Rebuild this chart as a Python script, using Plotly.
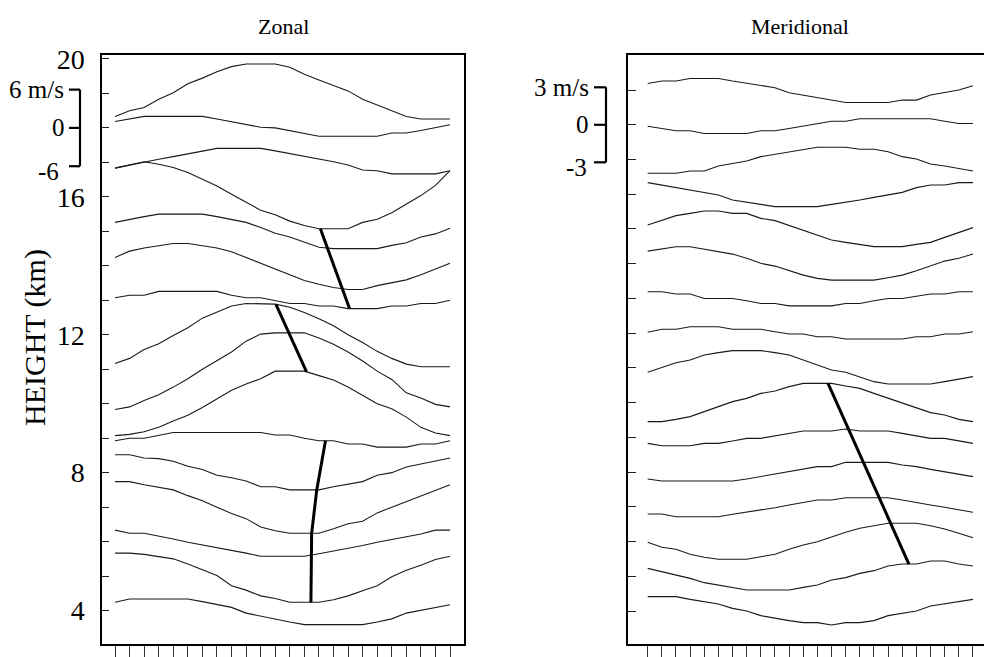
import numpy as np
import plotly.graph_objects as go

# Time index of each profile sample (24 samples)
hours = list(range(24))
# Nominal height of each profile (km)
levels = list(range(4, 20))

# Zonal wind perturbation (m/s) at each nominal height
ZONAL_04 = [1.3, 1.8, 1.8, 1.8, 1.8, 1.8, 1.4, 1.0, 0.5, -0.4, -0.9, -1.3, -1.8, -2.2, -2.2, -2.2, -2.2, -2.2, -1.8, -1.3, -0.4, 0.0, 0.5, 0.9]
ZONAL_05 = [3.6, 3.6, 3.4, 3.1, 2.7, 1.9, 1.0, 0.1, -1.5, -2.2, -3.1, -3.5, -4.1, -4.1, -4.1, -3.7, -3.1, -2.3, -1.5, -0.1, 0.9, 1.7, 2.6, 3.1]
ZONAL_06 = [1.8, 1.3, 1.3, 0.9, 0.4, -0.1, -0.5, -0.9, -1.3, -1.8, -2.3, -2.3, -2.3, -2.3, -1.9, -1.5, -1.0, -0.6, -0.1, 0.3, 0.8, 1.2, 1.8, 1.8]
ZONAL_07 = [4.0, 4.0, 3.5, 3.1, 2.7, 1.8, 1.0, 0.0, -1.0, -1.8, -3.1, -3.7, -4.1, -4.1, -4.1, -3.4, -2.6, -2.2, -0.9, 0.0, 0.9, 1.8, 2.7, 3.5]
ZONAL_08 = [2.8, 2.8, 2.3, 2.2, 1.8, 1.0, 0.5, -0.4, -0.8, -1.3, -2.2, -2.2, -2.7, -2.7, -2.7, -2.2, -1.8, -1.4, -0.4, 0.0, 0.9, 1.4, 1.8, 2.3]
ZONAL_09 = [-0.4, 0.0, 0.0, 0.5, 0.9, 0.9, 0.9, 0.9, 0.9, 0.9, 0.9, 0.5, 0.5, 0.0, -0.4, -0.4, -0.9, -0.9, -1.4, -1.4, -1.4, -0.9, -0.9, -0.4]
ZONAL_10 = [-5.0, -4.8, -4.4, -3.7, -2.7, -1.8, -0.6, 0.8, 2.1, 3.1, 3.9, 5.1, 5.1, 5.1, 4.4, 3.7, 2.6, 1.3, 0.0, -0.8, -2.1, -3.7, -4.6, -5.0]
ZONAL_11 = [-6.3, -5.9, -4.9, -4.0, -2.8, -1.5, 0.0, 1.3, 2.7, 4.4, 5.5, 5.7, 5.7, 5.7, 4.9, 3.9, 2.7, 1.3, -0.3, -1.6, -3.7, -4.5, -5.5, -5.9]
ZONAL_12 = [-4.5, -3.7, -2.3, -1.4, -0.1, 1.1, 2.6, 3.5, 4.5, 4.9, 4.9, 4.8, 4.3, 3.5, 2.5, 1.4, 0.0, -1.2, -2.6, -3.7, -4.6, -5.0, -5.0, -5.0]
ZONAL_13 = [0.4, 0.8, 0.8, 1.4, 1.4, 1.4, 1.4, 1.4, 0.8, 0.4, 0.4, 0.0, -0.5, -0.5, -0.9, -0.9, -1.3, -1.3, -1.3, -0.9, -0.9, -0.5, -0.5, 0.0]
ZONAL_14 = [1.3, 2.3, 2.8, 3.1, 3.5, 3.5, 3.1, 2.8, 2.2, 1.3, 0.4, -0.5, -1.4, -2.3, -2.9, -3.4, -3.7, -3.7, -3.1, -2.7, -2.2, -1.4, -0.5, 0.4]
ZONAL_15 = [1.4, 1.9, 2.3, 2.7, 2.7, 2.7, 2.7, 2.3, 1.9, 1.4, 0.6, -0.3, -0.9, -1.7, -2.5, -2.7, -2.7, -2.7, -2.7, -2.2, -1.8, -0.9, -0.4, 0.5]
ZONAL_16 = [4.5, 5.0, 5.5, 5.1, 4.6, 3.8, 2.8, 1.7, 0.4, -0.9, -2.1, -2.8, -3.8, -4.5, -5.0, -5.0, -5.0, -4.0, -3.5, -2.5, -1.1, 0.2, 1.8, 4.1]
ZONAL_17 = [-0.9, -0.4, 0.1, 0.5, 0.9, 1.3, 1.8, 2.2, 2.2, 2.2, 2.2, 1.8, 1.4, 0.9, 0.5, 0.1, -0.4, -1.2, -1.3, -1.8, -1.8, -1.8, -1.8, -1.3]
ZONAL_18 = [1.0, 1.4, 1.8, 1.8, 1.8, 1.8, 1.8, 1.4, 1.0, 0.5, 0.1, 0.0, -0.4, -0.8, -1.3, -1.3, -1.3, -1.3, -1.3, -0.8, -0.8, -0.4, 0.0, 0.5]
ZONAL_19 = [-3.6, -2.7, -2.2, -0.9, 0.1, 1.5, 2.4, 3.4, 4.2, 4.6, 4.6, 4.6, 4.1, 3.0, 2.1, 1.2, 0.4, -0.9, -1.8, -2.7, -3.6, -4.0, -4.0, -4.0]

# Meridional wind perturbation (m/s) at each nominal height
MERID_04 = [1.15, 1.15, 1.15, 0.93, 0.75, 0.56, 0.21, 0.0, -0.37, -0.59, -0.77, -0.93, -0.93, -1.12, -0.93, -0.93, -0.77, -0.37, -0.19, 0.0, 0.4, 0.56, 0.75, 0.93]
MERID_05 = [0.63, 0.37, 0.05, -0.17, -0.51, -0.7, -0.89, -1.1, -1.1, -1.1, -1.1, -0.89, -0.7, -0.3, -0.11, 0.23, 0.45, 0.82, 0.98, 0.98, 1.22, 1.22, 0.98, 0.82]
MERID_06 = [-0.06, -0.46, -0.62, -1.02, -1.26, -1.42, -1.42, -1.42, -1.21, -1.02, -0.62, -0.28, -0.01, 0.39, 0.74, 1.06, 1.27, 1.46, 1.46, 1.46, 1.27, 1.0, 0.66, 0.31]
MERID_07 = [-0.57, -0.57, -0.79, -0.79, -0.79, -0.79, -0.6, -0.44, -0.25, -0.07, 0.15, 0.33, 0.55, 0.55, 0.73, 0.73, 0.73, 0.73, 0.55, 0.33, 0.15, -0.04, -0.25, -0.44]
MERID_08 = [-0.55, -0.71, -0.71, -0.71, -0.71, -0.71, -0.71, -0.55, -0.36, -0.15, 0.04, 0.22, 0.44, 0.44, 0.78, 0.78, 0.78, 0.78, 0.57, 0.44, 0.22, 0.04, -0.15, -0.36]
MERID_09 = [-0.48, -0.67, -0.67, -0.67, -0.48, -0.48, -0.29, -0.08, -0.08, 0.11, 0.32, 0.51, 0.51, 0.51, 0.67, 0.51, 0.51, 0.51, 0.32, 0.11, -0.08, -0.08, -0.29, -0.48]
MERID_10 = [-1.52, -1.52, -1.34, -1.12, -0.72, -0.32, 0.08, 0.34, 0.74, 0.93, 1.28, 1.54, 1.54, 1.54, 1.33, 1.14, 0.74, 0.34, -0.06, -0.4, -0.8, -0.99, -1.34, -1.52]
MERID_11 = [-0.35, 0.02, 0.42, 0.63, 1.03, 1.22, 1.38, 1.38, 1.38, 1.22, 1.03, 0.63, 0.23, -0.17, -0.35, -0.7, -1.1, -1.29, -1.29, -1.29, -1.29, -1.1, -0.91, -0.7]
MERID_12 = [0.07, 0.31, 0.31, 0.52, 0.52, 0.52, 0.31, 0.31, 0.31, 0.12, -0.07, -0.07, -0.28, -0.28, -0.47, -0.47, -0.47, -0.47, -0.47, -0.28, -0.28, -0.07, -0.07, 0.12]
MERID_13 = [0.53, 0.53, 0.35, 0.35, 0.0, 0.0, 0.0, -0.19, -0.4, -0.4, -0.59, -0.59, -0.59, -0.59, -0.4, -0.4, -0.19, 0.0, 0.0, 0.19, 0.35, 0.35, 0.53, 0.53]
MERID_14 = [1.01, 1.17, 1.36, 1.36, 1.17, 1.01, 0.77, 0.43, 0.03, -0.19, -0.56, -0.91, -1.17, -1.31, -1.31, -1.31, -1.31, -1.12, -0.91, -0.56, -0.19, 0.21, 0.43, 0.77]
MERID_15 = [0.32, 0.72, 1.07, 1.25, 1.44, 1.44, 1.25, 1.25, 0.85, 0.67, 0.27, -0.08, -0.48, -0.88, -1.07, -1.23, -1.41, -1.41, -1.41, -1.23, -1.07, -0.67, -0.29, 0.11]
MERID_16 = [0.93, 0.74, 0.53, 0.34, 0.15, -0.06, -0.46, -0.65, -0.81, -0.99, -0.99, -0.99, -0.99, -0.81, -0.65, -0.46, -0.25, -0.06, 0.15, 0.53, 0.74, 0.74, 0.93, 0.93]
MERID_17 = [-1.1, -1.1, -1.1, -0.92, -0.92, -0.52, -0.3, -0.12, 0.23, 0.42, 0.63, 0.82, 0.98, 0.98, 0.98, 0.82, 0.82, 0.63, 0.23, 0.04, -0.36, -0.52, -0.7, -0.92]
MERID_18 = [-0.11, -0.29, -0.48, -0.48, -0.69, -0.69, -0.69, -0.69, -0.48, -0.48, -0.29, -0.11, 0.11, 0.29, 0.29, 0.48, 0.48, 0.48, 0.48, 0.48, 0.48, 0.29, 0.11, 0.11]
MERID_19 = [0.53, 0.72, 0.72, 0.93, 0.93, 0.93, 0.72, 0.53, 0.35, 0.19, -0.21, -0.4, -0.59, -0.8, -0.99, -0.99, -0.99, -0.99, -0.8, -0.8, -0.4, -0.21, 0.0, 0.35]

zonal = [ZONAL_04, ZONAL_05, ZONAL_06, ZONAL_07, ZONAL_08, ZONAL_09, ZONAL_10, ZONAL_11,
         ZONAL_12, ZONAL_13, ZONAL_14, ZONAL_15, ZONAL_16, ZONAL_17, ZONAL_18, ZONAL_19]
merid = [MERID_04, MERID_05, MERID_06, MERID_07, MERID_08, MERID_09, MERID_10, MERID_11,
         MERID_12, MERID_13, MERID_14, MERID_15, MERID_16, MERID_17, MERID_18, MERID_19]

# Phase lines: (time index, nominal height of the profile they touch)
zonal_phase = [
    [(14.1, 16), (16.1, 13)],
    [(11.05, 12), (13.15, 10)],
    [(14.45, 9), (13.85, 8), (13.5, 7), (13.45, 5)],
]
merid_phase = [
    [(12.75, 10), (18.47, 5)],
]

# Vertical display scale: km of plot height per m/s
ZONAL_SCALE = 1 / 5.4
MERID_SCALE = 0.36
# Reference bars (m/s) drawn at 18 km
ZONAL_BAR = 6
MERID_BAR = 3
BAR_LEVEL = 18

SERIF = "Liberation Serif, Times New Roman, serif"
W, H = 984, 657


def px(x):
    return x / W


def py(y):
    return 1 - y / H


fig = go.Figure()


def add_panel(profiles, scale, phases, xa, ya):
    for lev, u in zip(levels, profiles):
        fig.add_trace(go.Scatter(
            x=hours, y=[lev + scale * v for v in u], mode="lines",
            line=dict(color="#1a1a1a", width=1.1),
            xaxis=xa, yaxis=ya, showlegend=False, hoverinfo="skip"))
    for ph in phases:
        xs, ys = [], []
        for t, lev in ph:
            u = profiles[levels.index(lev)]
            xs.append(t)
            ys.append(lev + scale * float(np.interp(t, hours, u)))
        fig.add_trace(go.Scatter(
            x=xs, y=ys, mode="lines", line=dict(color="black", width=3),
            xaxis=xa, yaxis=ya, showlegend=False, hoverinfo="skip"))


add_panel(zonal, ZONAL_SCALE, zonal_phase, "x", "y")
add_panel(merid, MERID_SCALE, merid_phase, "x2", "y2")

ydom = [13 / H, 602 / H]
common_x = dict(showline=True, linecolor="black", linewidth=1.5, mirror=True,
                ticks="outside", ticklen=12, tickwidth=1.2, tickcolor="#333",
                tickvals=hours, showticklabels=False, showgrid=False,
                zeroline=False, automargin=False)
common_y = dict(showline=True, linecolor="black", linewidth=1.5,
                ticks="inside", tickwidth=1.2, tickcolor="#222",
                tickvals=list(range(4, 21)), showgrid=False, zeroline=False,
                automargin=False)

fig.update_layout(
    width=W, height=H,
    margin=dict(l=0, r=0, t=0, b=0),
    paper_bgcolor="white", plot_bgcolor="white",
    xaxis=dict(domain=[px(102), px(464.3)], range=[-0.893, 23.98], anchor="y", **common_x),
    yaxis=dict(domain=ydom, range=[3.03, 20.115], anchor="x", mirror=True, ticklen=7,
               ticktext=[str(v) if v % 4 == 0 else "" for v in range(4, 21)],
               tickfont=dict(family=SERIF, size=28, color="black"),
               ticklabelstandoff=10, **common_y),
    xaxis2=dict(domain=[px(627.7), 1.0], range=[-1.414, 23.78], anchor="y2", **common_x),
    yaxis2=dict(domain=ydom, range=[3.05, 20.01], anchor="x2", mirror=False, ticklen=9,
                showticklabels=False, **common_y),
)

shapes = []
annotations = []


def scale_bar(x_line, x_tick, yref, scale, bar, lab_x, labels):
    top = BAR_LEVEL + scale * bar
    bot = BAR_LEVEL - scale * bar
    line = dict(color="black", width=2.2)
    shapes.append(dict(type="line", xref="paper", yref=yref, x0=px(x_line), x1=px(x_line),
                       y0=bot, y1=top, line=line))
    for yv in (top, BAR_LEVEL, bot):
        shapes.append(dict(type="line", xref="paper", yref=yref, x0=px(x_tick), x1=px(x_line),
                           y0=yv, y1=yv, line=line))
    for (txt, yv, xr, ys) in zip(labels, (top, BAR_LEVEL, bot), lab_x, (0, 0, -5)):
        annotations.append(dict(text=txt, xref="paper", yref=yref, x=px(xr), y=yv,
                                xanchor="right", yanchor="middle", yshift=ys, showarrow=False,
                                font=dict(family=SERIF, size=25, color="black")))


scale_bar(80, 69, "y", ZONAL_SCALE, ZONAL_BAR, (66, 67, 61),
          (f"{ZONAL_BAR} m/s", "0", f"-{ZONAL_BAR}"))
scale_bar(606, 594, "y2", MERID_SCALE, MERID_BAR, (591, 591, 589),
          (f"{MERID_BAR} m/s", "0", f"-{MERID_BAR}"))

annotations += [
    dict(text="Zonal", xref="paper", yref="paper", x=px(283), y=py(27),
         xanchor="center", yanchor="middle", showarrow=False,
         font=dict(family=SERIF, size=22, color="black")),
    dict(text="Meridional", xref="paper", yref="paper", x=px(800), y=py(27),
         xanchor="center", yanchor="middle", showarrow=False,
         font=dict(family=SERIF, size=22, color="black")),
    dict(text="HEIGHT (km)", xref="paper", yref="paper", x=px(35), y=py(338),
         xanchor="center", yanchor="middle", textangle=-90, showarrow=False,
         font=dict(family=SERIF, size=30, color="black")),
]

fig.update_layout(shapes=shapes, annotations=annotations)
fig.write_html("out.html")
